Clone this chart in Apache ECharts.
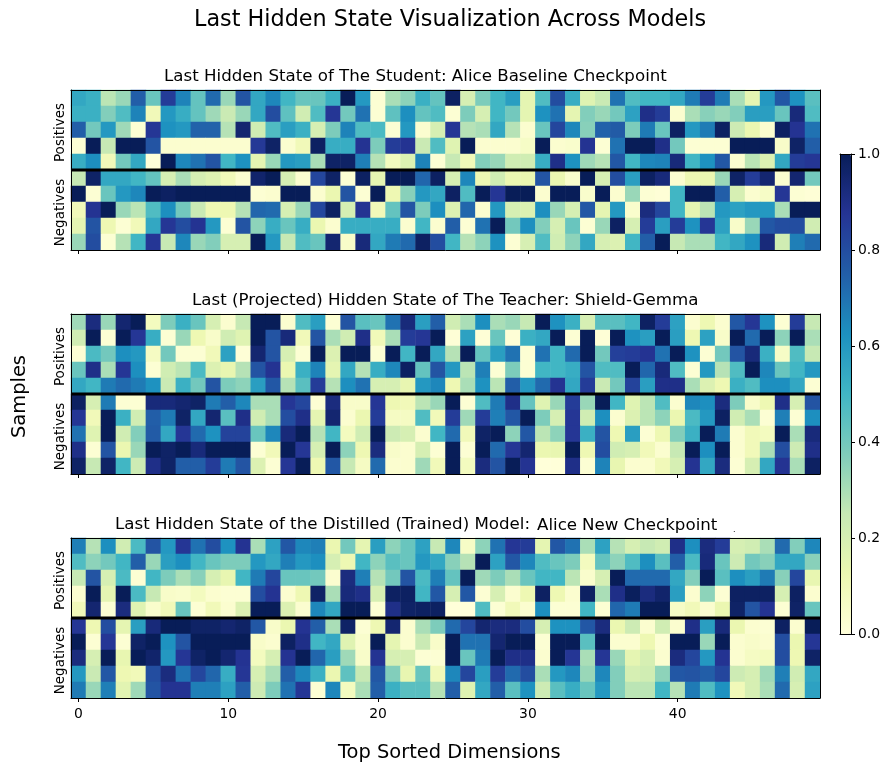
<!DOCTYPE html>
<html><head><meta charset="utf-8">
<script src="https://cdn.jsdelivr.net/npm/echarts@6/dist/echarts.min.js"></script>
<style>html,body{margin:0;padding:0;background:#fff}#c{width:891px;height:772px}</style>
</head><body><div id="c"></div>
<script>
const dimensions = Array.from({length:50},(_,i)=>String(i));
const rowLabels = ['','','Positives','','','','','Negatives','',''];
const colorbarTicks = [0,0.2,0.4,0.6,0.8,1];
const separatorRow = 4.5;
const ylgnbu = ['#ffffd9','#edf8b1','#c7e9b4','#7fcdbb','#41b6c4','#1d91c0','#225ea8','#253494','#081d58'];

const studentValues = [
[.55,.52,.27,.33,.75,.42,.85,.66,.43,.72,.33,.78,.55,.65,.5,.42,.42,.52,1,.6,.02,.3,.35,.52,.43, .98,.2,.38,.5,.58,.15,.47,.8,.53,.17,.24,.7,.47,.5,.5,.55,.68,.85,.68,.3,.15,.6,.77,.62,.45],
[.52,.52,.37,.47,.66,.1,.6,.53,.43,.32,.24,.33,.55,.8,.44,.22,.47,.87,.4,.7,.02,.44,.63,.43,.47, .02,.38,.2,.5,.4,.15,.62,.7,.15,.37,.33,.4,.57,.9,.85,.03,.3,.36,.33,.37,.58,.58,.42,.93,.47],
[.75,.4,.6,.32,.02,.87,.62,.6,.74,.74,.28,.95,.22,.47,.58,.52,.2,.38,.66,.47,.48,.02,.6,.03,.2, .87,.28,.3,.55,.28,.03,.42,.82,.65,.36,.74,.76,.38,.68,.42,.98,.6,.68,.98,.23,.13,.03,.98,.88,.7],
[.02,1,.25,1,1,.78,.03,.03,.03,.03,.03,.03,.86,.97,.03,.1,.98,.53,.53,.88,.38,.85,.88,.24,.47, .17,1,.03,.03,.03,.06,1,.03,.04,.88,.02,.7,1,1,.9,.4,.02,.02,.02,1,1,1,.05,.97,.75],
[.53,.63,.1,.4,.55,0,1,.65,.7,.78,.5,.62,.15,.33,.6,.58,.3,.97,.97,.67,.28,.08,.18,.66,.02, .25,.1,.37,.33,.22,.22,.53,.9,.62,.32,.28,.77,.5,.65,.66,.93,.5,.62,.77,.03,.27,.18,.55,.85,.87],
[.25,.97,.55,.55,.5,.43,.2,.3,.2,.17,.1,.03,.96,1,.2,.03,.82,.97,.02,.98,.15,1,1,.73,.98, .2,.65,.12,.22,.13,.13,.78,.13,.04,1,.2,.8,.58,.98,.93,.03,.12,.13,.33,.97,.85,.95,.03,.95,.4],
[1,.02,.42,.6,.65,1,.98,1,1,1,1,1,.02,.03,1,1,.03,.13,.78,.02,1,.12,.36,.6,.55, .98,.47,1,.87,1,1,.03,1,1,.04,1,.03,.33,.02,.01,.5,1,1,.75,.2,.03,.06,.87,.02,.01],
[.1,.88,1,.33,.27,.47,.63,.4,.24,.12,.12,.28,.73,.72,.2,.33,.82,.98,.2,.88,.1,.43,.78,.38,.63, .18,.73,.03,.6,.2,.18,.63,.33,.2,.77,.15,.6,.04,.92,.82,.5,.15,.27,.6,.57,.6,.6,.3,1,1],
[.15,.78,.12,.02,.1,.55,.87,.8,.88,.6,.02,.78,.35,.53,.42,.53,.13,.03,.53,.53,.53,.53,.03,.5,.03, .75,.02,.7,1,.4,.63,.37,.2,.42,.02,.33,.98,.2,.85,.58,.85,.62,.87,.57,.05,.33,.77,.8,.8,.22],
[.33,.8,.02,.28,.5,.87,.25,.65,.33,.37,.2,.2,1,.6,.25,.47,.42,.95,.05,.93,.55,.68,.72,.98,.8, .5,.28,.35,.62,.02,.2,.47,.22,.35,.55,.2,.18,.5,.75,1,.25,.3,.3,.5,.55,.62,.93,.22,.67,.72]
];
const teacherValues = [
[.32,.92,.33,.95,1,.08,.38,.52,.42,.2,.03,.25,1,1,.03,.47,.58,.02,.78,.45,.42,.7,.93,.58,.75, .22,.3,.63,.3,.33,.25,1,.62,.52,.2,.45,.45,.5,.98,.85,.57,.03,.12,.03,.77,.87,.62,.02,.85,.25],
[.22,1,.02,1,.87,.53,.02,.33,.12,.05,.22,.17,1,.78,.93,.1,.78,.3,.22,.9,.1,.3,.85,.87,1, .01,.57,.01,.42,.01,.52,.55,1,.02,1,.01,1,.62,.58,1,.58,.12,.57,.05,1,.72,1,.35,1,.3],
[.02,.48,.4,.63,.6,.07,.4,.02,.02,.1,.57,.01,.95,.78,.2,.02,1,.18,1,1,.02,1,.5,1,.55, .28,1,.43,.58,.7,.02,.7,.5,.72,1,.4,.84,.85,.88,.7,1,.62,.02,.4,.78,.93,.52,.06,.47,.25],
[.42,.9,.3,.87,.63,.02,.22,.27,.48,.18,.14,.28,.78,.88,.13,.52,.66,.15,.55,.28,.53,.65,.98,.43,.78, .6,.27,.67,.02,.38,.02,.5,.5,.53,.78,.47,.47,1,.73,.93,.47,.02,.6,.28,.47,1,.65,.42,.5,.6],
[.55,.5,.68,.72,.68,.62,.24,.52,.4,.78,.38,.35,.58,.77,.28,.45,.85,.28,.63,.7,.2,.2,.14,.6,.65, .12,.3,.62,.27,.75,.6,.72,.88,.55,.85,.24,.4,.83,.58,.9,.9,.3,.18,.12,.52,.47,.63,.63,.55,.02],
[.98,.2,.68,.02,.02,.93,.93,.95,.97,.68,.75,.65,.3,.3,.87,.82,.02,.92,.05,.05,.87,.12,.1,.27,.33, 1,.02,.47,.68,.9,.43,.17,.33,.85,.33,1,.5,.17,.27,.47,.03,.65,.63,.92,.38,.05,.12,.9,.2,.78],
[.87,.1,1,.52,.22,.75,.68,.97,.55,.95,.45,.9,.22,.3,.8,.9,.15,.95,.03,.13,.85,.07,.07,.47,.1, .85,.32,.85,.67,.77,1,.38,.2,.87,.22,.63,.03,.18,.27,.35,.13,.48,.6,.98,.22,.3,.02,.67,.02,.63],
[.7,.17,1,.22,.37,.76,.55,.87,.72,.62,.83,.83,.42,.65,.93,1,.28,.5,.08,.22,1,.23,.2,.03,.5, .72,.1,.97,1,.35,.77,.27,.35,.87,.52,.78,.12,.58,.02,.12,.37,.52,1,.68,.03,.1,.08,1,.3,.93],
[.9,.02,.78,.13,.33,1,.97,1,.93,1,1,1,.02,.1,1,.87,.2,1,.35,.12,.92,.05,.03,.2,.02, 1,.02,1,.72,.87,.95,.13,.14,1,.12,.8,.22,.2,.1,.03,.25,1,.63,1,.03,.1,.3,.8,.23,.9],
[.97,.25,.97,.5,.23,.9,.97,.75,.75,.85,.68,.78,.18,.02,.87,1,.12,.77,.25,.07,.72,.03,.03,.32,.1, 1,.08,.92,.78,1,.88,0,0,.9,.02,.66,.14,.03,.03,.1,.2,.88,.55,.92,.02,.2,.55,.88,.3,.98]
];
const distilledValues = [
[.67,.28,.63,.22,.48,.78,.6,.87,.7,.8,.62,.88,.3,.57,.77,.65,.67,.13,.4,.15,.58,.35,.42,.57,.25, .65,.06,.35,.7,.87,.85,.15,.77,.7,.3,.57,.28,.2,.25,.22,.9,.63,.92,.85,.2,.22,.3,.72,.37,.65],
[.47,.35,.4,.5,.75,.33,.58,.63,.5,.42,.38,.38,.6,.55,.67,.6,.63,.2,.12,.5,.35,.45,.42,.6,.55, .36,.28,1,.57,.77,.65,.47,.42,.38,.08,.43,.35,.47,.63,.45,.75,.48,.93,.42,.23,.4,.36,.55,.55,.36],
[.25,.78,.2,.48,.02,.5,.38,.3,.36,.2,.14,.5,.68,.82,.42,.42,.4,.03,.92,.67,.28,.4,.78,.48,.67, .43,1,.32,.38,.3,.42,.5,.5,.27,.04,.2,1,.72,.72,.72,.55,.37,1,.45,.63,.58,.68,.36,.82,.14],
[.03,1,.15,1,.48,.25,.05,.04,.08,.03,.02,.02,.8,.88,.03,.12,.97,.3,.93,.9,.2,.98,.98,.5,.77, .2,.77,.02,.2,.03,.12,.98,.12,.03,.98,.3,.9,.99,.92,.96,.58,.03,.35,.02,.98,.98,.98,.2,.98,.03],
[.1,.95,.02,.92,.17,.04,.1,.42,.02,.1,.03,.18,1,1,.18,.03,.65,.55,1,1,.02,.9,.97,.98,.98, 0,0,.47,.02,.1,.03,.63,.02,.02,.5,.02,.73,.68,1,1,.06,.1,.03,.13,.97,.78,.88,.02,.97,.42],
[.87,.12,.8,.15,.58,.93,1,1,.97,.97,.95,.97,.77,.05,.13,.88,.75,.3,.97,.02,.12,.95,.03,.3,.38, .72,.82,.95,.92,.92,.8,.2,.62,.62,.77,.92,.13,.23,.03,.22,.03,.9,.58,.93,.13,.03,.02,.98,.03,1],
[1,.02,.87,.02,.97,1,.62,.78,1,1,1,1,.05,.03,.98,.9,.5,.55,.17,.04,1,.15,.03,.24,.05, 1,.7,.7,.95,1,1,.02,1,1,.45,1,.03,.03,.12,.02,1,1,.33,1,.03,.05,.03,.8,.13,.87],
[.92,.2,1,.14,1,.96,.6,.87,.97,1,.95,.88,.08,.2,.88,1,.73,.58,.32,.05,.88,.2,.2,.02,.02, 1,.42,.68,1,.9,.9,.03,1,.87,.3,.87,.33,.15,.2,.03,.92,.82,.6,.88,.03,.07,.08,.8,.12,.97],
[.6,.24,.77,.12,.1,.8,.92,.7,.82,.73,.53,.87,.2,.3,.75,.65,.52,.13,.44,.25,.77,.37,.14,.42,.1, .65,.82,.58,.85,.72,.8,.3,.6,.65,.33,.65,.37,.2,.22,.35,.77,.78,.75,.82,.23,.2,.32,.67,.22,.55],
[.68,.33,.67,.16,.32,.78,.88,.88,.67,.67,.57,.75,.23,.38,.7,.87,.02,.65,.08,.3,.75,.52,.45,.45,.28, .75,.17,.55,.75,.45,.62,.23,.45,.53,.42,.6,.37,.27,.27,.5,.28,.68,.47,.62,.1,.2,.3,.72,.2,.57]
];
const panels = [studentValues, teacherValues, distilledValues];
const panelTops = [90, 314, 538];

const FONT = 'DejaVu Sans';
const grids = [], xAxes = [], yAxes = [], series = [];
panels.forEach((rows, i) => {
  grids.push({left:71, width:749, top:panelTops[i], height:160, containLabel:false});
  xAxes.push({type:'category', gridIndex:i, data:dimensions, position:'bottom', z:5,
    axisLine:{show:true,onZero:false,lineStyle:{color:'#000',width:1}},
    axisTick:{show:true,alignWithLabel:true,interval:9,length:4,lineStyle:{color:'#000',width:1}},
    axisLabel:{show:i===2,interval:9,color:'#000',fontFamily:FONT,fontSize:13.9,margin:9},
    splitLine:{show:false}});
  yAxes.push({type:'category', gridIndex:i, data:rowLabels, inverse:true, z:5,
    axisLine:{show:true,onZero:false,lineStyle:{color:'#000',width:1}}, axisTick:{show:false},
    axisLabel:{show:true,interval:0,rotate:90,color:'#000',fontFamily:FONT,fontSize:13.5,margin:4,align:'center',verticalAlign:'bottom',padding:[0,5,0,0]},
    splitLine:{show:false}});
});
panels.forEach((rows, i) => {
  series.push({type:'heatmap', xAxisIndex:i, yAxisIndex:i, animation:false,
    data:rows.flatMap((row,y)=>row.map((v,x)=>[x,y,v])),
    itemStyle:{borderWidth:0}, emphasis:{disabled:true}, silent:true, progressive:0});
});
// overlay value axes: frame + the separator line between Positives and Negatives
panels.forEach((rows, i) => {
  const xi = xAxes.length, yi = yAxes.length;
  xAxes.push({type:'value', gridIndex:i, min:-0.5, max:49.5, position:'top', z:5,
    axisLine:{show:true,onZero:false,lineStyle:{color:'#000',width:1}}, axisTick:{show:false}, axisLabel:{show:false}, splitLine:{show:false}});
  yAxes.push({type:'value', gridIndex:i, min:-0.5, max:9.5, inverse:true, position:'right', z:5,
    axisLine:{show:true,onZero:false,lineStyle:{color:'#000',width:1}}, axisTick:{show:false}, axisLabel:{show:false}, splitLine:{show:false}});
  series.push({type:'line', xAxisIndex:xi, yAxisIndex:yi, animation:false, silent:true, showSymbol:false, z:6,
    lineStyle:{color:'#000',width:3}, data:[[-0.5,separatorRow],[49.5,separatorRow]]});
});
// colourbar ticks
grids.push({left:840, width:11, top:154, height:480});
const cbGrid = grids.length-1;
xAxes.push({type:'value', gridIndex:cbGrid, min:0, max:1, position:'top', z:10,
  axisLine:{show:true,onZero:false,lineStyle:{color:'#000',width:1}}, axisTick:{show:false}, axisLabel:{show:false}, splitLine:{show:false}});
xAxes.push({type:'value', gridIndex:cbGrid, min:0, max:1, position:'bottom', z:10,
  axisLine:{show:true,onZero:false,lineStyle:{color:'#000',width:1}}, axisTick:{show:false}, axisLabel:{show:false}, splitLine:{show:false}});
yAxes.push({type:'value', gridIndex:cbGrid, min:0, max:1, interval:0.2, position:'right', z:10,
  axisLine:{show:true,onZero:false,lineStyle:{color:'#000',width:1}},
  axisTick:{show:true,length:4,lineStyle:{color:'#000',width:1}},
  axisLabel:{show:true,color:'#000',fontFamily:FONT,fontSize:13.9,margin:7,formatter:v=>colorbarTicks.includes(+v.toFixed(1))?v.toFixed(1):''},
  splitLine:{show:false}});
yAxes.push({type:'value', gridIndex:cbGrid, min:0, max:1, position:'left', z:10,
  axisLine:{show:true,onZero:false,lineStyle:{color:'#000',width:1}}, axisTick:{show:false}, axisLabel:{show:false}, splitLine:{show:false}});

const subT = (text,left,top)=>({text,left,top,textStyle:{fontFamily:FONT,fontSize:16.67,fontWeight:'normal',color:'#000',lineHeight:18},padding:0});

const chart = echarts.init(document.getElementById('c'),null,{renderer:'canvas'});
chart.setOption({
  animation:false, backgroundColor:'#fff',
  title:[
    {text:'Last Hidden State Visualization Across Models',left:194,top:9,padding:0,textStyle:{fontFamily:FONT,fontSize:22.3,fontWeight:'normal',color:'#000'}},
    subT('Last Hidden State of The Student: Alice Baseline Checkpoint',164,68),
    subT('Last (Projected) Hidden State of The Teacher: Shield-Gemma',192,292),
    subT('Last Hidden State of the Distilled (Trained) Model:',115,516),
    subT('Alice',537,517),
    subT('New Checkpoint',582,517),
    {text:'.',left:733,top:526,padding:0,textStyle:{fontFamily:FONT,fontSize:8,fontWeight:'normal',color:'#000'}}
  ],
  grid:grids, xAxis:xAxes, yAxis:yAxes, series,
  visualMap:[{type:'continuous',min:0,max:1,seriesIndex:[0,1,2],calculable:false,hoverLink:false,
    left:840,top:154,itemWidth:11,itemHeight:480,padding:0,text:['',''],showLabel:false,
    inRange:{color:ylgnbu},textStyle:{fontSize:0},z:2}],
  graphic:[
    {type:'text',left:10,top:355,rotation:Math.PI/2,silent:true,style:{text:'Samples',fontFamily:FONT,fontSize:19.44,fill:'#000'}},
    {type:'text',left:338,top:743,silent:true,style:{text:'Top Sorted Dimensions',fontFamily:FONT,fontSize:19.44,fill:'#000'}}
  ]
});
</script></body></html>
